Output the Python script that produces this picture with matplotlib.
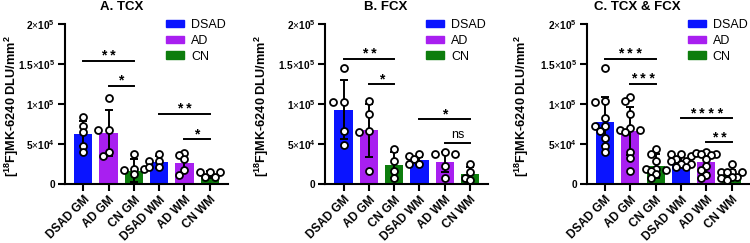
import numpy as np
import matplotlib
matplotlib.use('Agg')
import matplotlib.pyplot as plt
from matplotlib.patches import Patch

plt.rcParams['font.family'] = 'Liberation Sans'
plt.rcParams['mathtext.fontset'] = 'custom'
plt.rcParams['mathtext.rm'] = 'Liberation Sans'
plt.rcParams['mathtext.bf'] = 'Liberation Sans:bold'

# dados
categorias = ['DSAD GM', 'AD GM', 'CN GM', 'DSAD WM', 'AD WM', 'CN WM']
grupos = ['DSAD', 'AD', 'CN']
titulos = ['A. TCX', 'B. FCX', 'C. TCX & FCX']

# painel A (TCX), valores em 1e4
medias_a = [6.29, 6.4, 1.67, 2.75, 2.67, 1.2]
dp_a = [1.6, 2.9, 1.4, 0.75, 1.2, 0.45]
pontos_a = [
    [8.4, 7.2, 6.5, 4.7, 4.0],
    [10.8, 6.8, 6.8, 4.0, 3.5],
    [3.8, 1.9, 1.7, 1.9, 1.2],
    [3.7, 2.9, 2.9, 2.1, 2.1],
    [3.9, 3.6, 3.1, 1.75, 1.1],
    [1.5, 1.5, 1.5, 0.9, 0.9],
]
sig_a = [(0, 2, 15.4, '**'), (1, 2, 12.3, '*'), (3, 5, 8.75, '**'), (4, 5, 5.6, '*')]

# painel B (FCX)
medias_b = [9.3, 6.7, 2.4, 2.95, 2.8, 1.2]
dp_b = [3.7, 3.3, 1.6, 0.4, 1.25, 0.9]
pontos_b = [
    [14.5, 10.2, 10.2, 6.6, 4.9],
    [10.4, 8.7, 6.6, 6.5, 1.6],
    [4.4, 2.9, 1.6, 0.8],
    [3.7, 3.5, 3.1, 2.5, 2.5],
    [3.95, 3.7, 3.7, 2.2, 0.8],
    [2.5, 1.45, 0.8, 0.5],
]
sig_b = [(0, 2, 15.6, '**'), (1, 2, 12.5, '*'), (3, 5, 8.1, '*'), (4, 5, 5.1, 'ns')]

# painel C (TCX & FCX)
medias_c = [7.8, 6.6, 2.3, 2.9, 2.7, 1.1]
dp_c = [3.1, 3.0, 1.5, 0.45, 1.3, 0.6]
pontos_c = [
    [14.5, 10.4, 10.2, 8.3, 7.2, 7.2, 6.6, 5.7, 4.7, 4.0],
    [10.9, 10.4, 8.7, 7.0, 6.8, 6.8, 6.5, 4.0, 3.3, 1.6],
    [4.4, 3.8, 2.9, 1.9, 1.9, 1.7, 1.6, 1.2, 0.8],
    [3.7, 3.7, 3.5, 3.1, 2.9, 2.9, 2.5, 2.5, 2.1, 2.1],
    [3.95, 3.9, 3.7, 3.7, 3.6, 3.1, 2.2, 1.75, 1.1, 0.8],
    [2.5, 1.5, 1.5, 1.5, 1.45, 0.9, 0.9, 0.8, 0.5],
]
sig_c = [(0, 2, 15.6, '***'), (1, 2, 12.5, '***'), (3, 5, 8.2, '****'), (4, 5, 5.2, '**')]

cores = ['#0a14ff', '#a81ff0', '#0d7d0d']
cores_barras = [cores[0], cores[1], cores[2], cores[0], cores[1], cores[2]]

yticks = [0, 5e4, 1e5, 1.5e5, 2e5]
ytick_labels = ['0', r'5$\times$10$^{\mathbf{4}}$', r'1$\times$10$^{\mathbf{5}}$',
                r'1.5$\times$10$^{\mathbf{5}}$', r'2$\times$10$^{\mathbf{5}}$']

# layout em pixels
W, H = 750, 243
esq_px = [65, 325.3, 586.8]
larg_px = 163
topo_px, base_px = 24, 184
ylabel_x = [12, 262, 522]
titulo_x = [122, 386, 637]

px_x = larg_px / 6.44
px_y = (base_px - topo_px) / 2e5
diam = 5.5


def enxame(vals, d=0.2, nmax=2):
    # espalha pontos horizontalmente (tipo beeswarm), com largura limitada
    colocados = []
    offs = []
    cand = [0.0]
    for n in range(1, nmax + 1):
        cand += [-n * d, n * d]
    for v in vals:
        y = v * px_y
        melhor, melhor_dist = 0.0, -1
        for c in cand:
            dist = min([np.hypot((c - o) * px_x, y - py) for o, py in colocados] + [99])
            if dist >= diam:
                melhor = c
                break
            if dist > melhor_dist:
                melhor, melhor_dist = c, dist
        colocados.append((melhor, y))
        offs.append(melhor)
    return offs


fig = plt.figure(figsize=(7.5, 2.43), dpi=100)

paineis = [(medias_a, dp_a, pontos_a, sig_a),
           (medias_b, dp_b, pontos_b, sig_b),
           (medias_c, dp_c, pontos_c, sig_c)]

for k, (medias, dp, pontos, sig) in enumerate(paineis):
    ax = fig.add_axes([esq_px[k] / W, 1 - base_px / H, larg_px / W, (base_px - topo_px) / H])
    x = np.arange(len(categorias))
    m = np.array(medias) * 1e4
    s = np.array(dp) * 1e4
    ax.bar(x, m, width=0.72, color=cores_barras, zorder=1)
    ax.errorbar(x, m, yerr=s, fmt='none', ecolor='black', elinewidth=1.4,
                capsize=3.2, capthick=1.4, zorder=2)
    for i, vals in enumerate(pontos):
        v = np.array(vals) * 1e4
        offs = enxame(v)
        ax.plot(x[i] + np.array(offs), v, 'o', ms=5, mfc='white', mec='black',
                mew=1.3, zorder=3, clip_on=False)
    for i, j, y, txt in sig:
        y = y * 1e4
        ax.plot([x[i], x[j]], [y, y], color='black', lw=1.4, clip_on=False)
        if txt == 'ns':
            ax.text((x[i] + x[j]) / 2, y + 0.25e4, txt, ha='center', va='bottom',
                    fontsize=9)
        else:
            ax.text((x[i] + x[j]) / 2, y + 0.1e4, ' '.join(txt), ha='center',
                    va='baseline', fontsize=10, fontweight='bold')

    ax.set_xlim(-0.72, 5.72)
    ax.set_ylim(0, 2e5)
    ax.set_yticks(yticks)
    ax.set_yticklabels(ytick_labels, fontsize=7.3, fontweight='bold')
    ax.set_xticks(x)
    ax.set_xticklabels(categorias, rotation=45, ha='right', rotation_mode='anchor',
                       fontsize=8.5, fontweight='bold')
    for sp in ['top', 'right']:
        ax.spines[sp].set_visible(False)
    for sp in ['left', 'bottom']:
        ax.spines[sp].set_linewidth(1.5)
    ax.tick_params(width=1.5, length=5, pad=2)

    leg = ax.legend(handles=[Patch(color=c, label=g) for c, g in zip(cores, grupos)],
                    loc='upper left', bbox_to_anchor=(1 - 62 / larg_px, 1 + 5 / 160),
                    frameon=False, borderpad=0, borderaxespad=0, fontsize=9,
                    handlelength=1.45, handleheight=0.55, handletextpad=0.55,
                    labelspacing=0.3)

    fig.text(ylabel_x[k] / W, 1 - 106 / H, r'[$^{\mathbf{18}}$F]MK-6240 DLU/mm$^{\mathbf{2}}$',
             rotation=90, ha='center', va='center', fontsize=9.2, fontweight='bold')
    fig.text(titulo_x[k] / W, 1 - 7 / H, titulos[k], ha='center', va='center',
             fontsize=9.5, fontweight='bold')

plt.savefig('out.png', dpi=100)
